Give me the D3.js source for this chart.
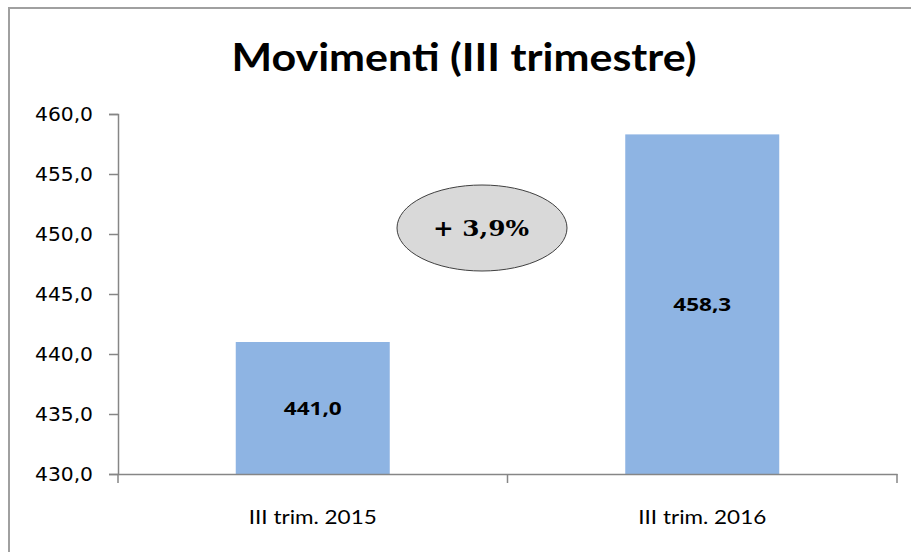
<!DOCTYPE html>
<html>
<head>
<meta charset="utf-8">
<script src="https://cdn.jsdelivr.net/npm/d3@7"></script>
<style>
  body { margin: 0; background: #fff; }
  svg { display: block; }
</style>
</head>
<body>
<div id="chart"></div>
<script>
var width = 911
var height = 552

var categories = ["III trim. 2015", "III trim. 2016"]
var values = [441.0, 458.3]
var yTicks = [430, 435, 440, 445, 450, 455, 460]
var changeLabel = "+ 3,9%"

var fmt = function(v) { return d3.format(".1f")(v).replace(".", ",") }

var svg = d3.select("#chart").append("svg")
    .attr("width", width)
    .attr("height", height)

// outer frame (only top/left visible in the original crop)
svg.append("path")
    .attr("d", "M9," + height + "V8H" + width)
    .attr("fill", "none")
    .attr("stroke", "#a0a0a0")
    .attr("stroke-width", 2)

var x = d3.scaleBand()
    .domain(categories)
    .range([118, 897])
    .paddingInner(0)
    .paddingOuter(0)

var y = d3.scaleLinear()
    .domain([430, 460])
    .range([474, 114])

// title
svg.append("text")
    .attr("x", 464)
    .attr("y", 71)
    .attr("text-anchor", "middle")
    .attr("textLength", 465)
    .attr("lengthAdjust", "spacingAndGlyphs")
    .style("font-family", "Lato, 'Open Sans', sans-serif")
    .style("font-weight", "bold")
    .style("font-size", "39px")
    .style("fill", "#000")
    .text("Movimenti (III trimestre)")

// bars
var barW = 154
svg.selectAll("rect.bar")
    .data(values)
    .enter()
    .append("rect")
    .attr("class", "bar")
    .attr("x", function(d, i) { return x(categories[i]) + x.bandwidth() / 2 - barW / 2 })
    .attr("y", function(d) { return y(d) })
    .attr("width", barW)
    .attr("height", function(d) { return y(430) - y(d) })
    .style("fill", "#8eb4e3")

// value labels
svg.selectAll("text.val")
    .data(values)
    .enter()
    .append("text")
    .attr("class", "val")
    .attr("x", function(d, i) { return x(categories[i]) + x.bandwidth() / 2 })
    .attr("y", function(d) { return (y(d) + y(430)) / 2 + 7 })
    .attr("text-anchor", "middle")
    .attr("textLength", 58)
    .attr("lengthAdjust", "spacingAndGlyphs")
    .style("font-family", "'Open Sans', 'DejaVu Sans', sans-serif")
    .style("font-weight", "bold")
    .style("font-size", "18px")
    .text(function(d) { return fmt(d) })

// y axis
var lAxis = d3.axisLeft(y)
    .tickValues(yTicks)
    .tickSize(9)
    .tickPadding(16)
    .tickFormat(fmt)
var gy = svg.append("g")
    .attr("transform", "translate(118,0)")
    .call(lAxis)
gy.select(".domain").attr("stroke", "#868686").attr("stroke-width", 1.5)
gy.selectAll(".tick line").attr("stroke", "#868686").attr("stroke-width", 1.5)
gy.selectAll(".tick text")
    .attr("textLength", 58)
    .attr("lengthAdjust", "spacingAndGlyphs")
    .style("font-family", "'DejaVu Sans', sans-serif")
    .style("font-size", "19px")
    .style("fill", "#000")

// x axis
var bAxis = d3.axisBottom(x)
    .tickSize(0)
    .tickPadding(36)
var gx = svg.append("g")
    .attr("transform", "translate(0,474)")
    .call(bAxis)
gx.select(".domain").attr("stroke", "#868686").attr("stroke-width", 1.5)
gx.selectAll(".tick text")
    .attr("textLength", 128)
    .attr("lengthAdjust", "spacingAndGlyphs")
    .style("font-family", "Lato, 'Open Sans', sans-serif")
    .style("font-size", "20px")
    .style("fill", "#000")
// category separators
var seps = [118].concat(categories.map(function(c) { return x(c) + x.bandwidth() }))
gx.selectAll("line.sep")
    .data(seps)
    .enter()
    .append("line")
    .attr("class", "sep")
    .attr("x1", function(d) { return d })
    .attr("x2", function(d) { return d })
    .attr("y1", 0)
    .attr("y2", 9)
    .attr("stroke", "#868686")
    .attr("stroke-width", 1.5)

// change bubble
svg.append("ellipse")
    .attr("cx", 482)
    .attr("cy", 228)
    .attr("rx", 85)
    .attr("ry", 43)
    .style("fill", "#d9d9d9")
    .style("stroke", "#404040")
    .style("stroke-width", 1)
svg.append("text")
    .attr("x", 481)
    .attr("y", 236)
    .attr("text-anchor", "middle")
    .attr("textLength", 96)
    .attr("lengthAdjust", "spacingAndGlyphs")
    .style("font-family", "'DejaVu Serif', 'Liberation Serif', serif")
    .style("font-weight", "bold")
    .style("font-size", "23px")
    .text(changeLabel)
</script>
</body>
</html>
